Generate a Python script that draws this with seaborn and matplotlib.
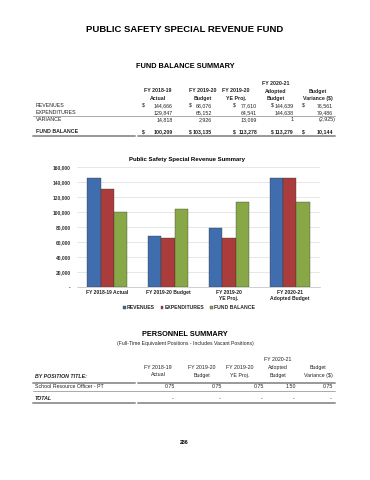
import matplotlib
matplotlib.use("Agg")
import matplotlib.pyplot as plt
from matplotlib.lines import Line2D
from matplotlib.ticker import FuncFormatter
import seaborn as sns
import pandas as pd

# ---------------- data ----------------
periods = ["FY 2018-19 Actual", "FY 2019-20 Budget", "FY 2019-20\nYE Proj.", "FY 2020-21\nAdopted Budget"]
series_names = ["REVENUES", "EXPENDITURES", "FUND BALANCE"]
revenues = [144666, 68076, 77610, 144639]
expenditures = [129847, 65152, 64541, 144638]
fund_balance = [100209, 103135, 113278, 113279]
variance = [14818, 2926, 13069, 1]
budget_variance = [76561, 79486, -2925, 10144]  # revenues, expenditures, variance, fund balance
y_ticks = [0, 20000, 40000, 60000, 80000, 100000, 120000, 140000, 160000]
colors = ["#3F6DAD", "#AA3D3B", "#88A848"]

position_titles = ["School Resource Officer - PT"]
fte_values = [[0.75, 0.75, 0.75, 1.50, 0.75]]
total_values = ["-", "-", "-", "-", "-"]

W, H = 370, 480
sns.set_theme(style="white")
plt.rcParams['font.family'] = ['Liberation Sans', 'DejaVu Sans']
fig = plt.figure(figsize=(W / 100, H / 100), dpi=100)
fig.patch.set_facecolor("white")


def T(x, y, s, size=3.8, ha="left", weight="normal", style="normal", color="#222222"):
    fig.text(x / W, 1 - y / H, s, fontsize=size, ha=ha, va="center",
             fontweight=weight, fontstyle=style, color=color)


def L(x0, x1, y, lw=0.5, color="#888888"):
    fig.add_artist(Line2D([x0 / W, x1 / W], [1 - y / H, 1 - y / H],
                          transform=fig.transFigure, lw=lw, color=color))


def fmt(v):
    if v < 0:
        return "({:,})".format(-v)
    return "{:,}".format(v)


# ---------------- titles ----------------
T(185, 29, "PUBLIC SAFETY SPECIAL REVENUE FUND", size=6.8, ha="center", weight="bold", color="black")
T(185, 67, "FUND BALANCE SUMMARY", size=5.3, ha="center", weight="bold", color="black")

# ---------------- fund balance table ----------------
hdr_x = [158, 203, 236, 276, 318]
hdr2 = ["FY 2018-19", "FY 2019-20", "FY 2019-20", "Adopted", "Budget"]
hdr3 = ["Actual", "Budget", "YE Proj.", "Budget", "Variance ($)"]
T(276, 83.5, "FY 2020-21", size=3.8, ha="center", weight="bold")
for x, a, b in zip(hdr_x, hdr2, hdr3):
    T(x, 91, a, size=3.8, ha="center", weight="bold")
    T(x, 98.7, b, size=3.8, ha="center", weight="bold")

dollar_x = [141.7, 189, 233, 270.7, 301.7]
val_x = [172.7, 211.7, 257, 293.3, 333.3]

rows = [
    ("REVENUES", revenues + [budget_variance[0]], True, "normal", 105.3),
    ("EXPENDITURES", expenditures + [budget_variance[1]], False, "normal", 112.3),
    ("VARIANCE", variance + [budget_variance[2]], False, "normal", 119.5),
    ("FUND BALANCE", fund_balance + [budget_variance[3]], True, "bold", 131.7),
]
for label, vals, dollars, wt, y in rows:
    T(36, y, label, size=3.8, weight=wt)
    for i, v in enumerate(vals):
        if dollars:
            T(dollar_x[i], y, "$", size=3.8, weight=wt)
        xoff = 2.3 if v < 0 else 0
        T(val_x[i] + xoff, y, fmt(v), size=3.8, ha="right", weight=wt)
L(33, 335, 115.6, lw=0.5)
L(33, 135, 136, lw=1.4, color="#999999")
L(138, 335, 136, lw=1.4, color="#999999")

# ---------------- bar chart ----------------
T(187, 160, "Public Safety Special Revenue Summary", size=4.3, ha="center", weight="bold", color="black")

df = pd.DataFrame({
    "period": periods * 3,
    "series": [s for s in series_names for _ in periods],
    "value": revenues + expenditures + fund_balance,
})

ax = fig.add_axes([77 / W, 1 - 286.7 / H, (320 - 77) / W, (286.7 - 166.7) / H])
sns.barplot(data=df, x="period", y="value", hue="series", palette=colors,
            width=0.66, ax=ax, saturation=1, edgecolor="#333333", linewidth=0.25,
            legend=True)
ax.set_ylim(0, 160000)
ax.set_yticks(y_ticks)
ax.yaxis.set_major_formatter(FuncFormatter(lambda v, p: "-" if v == 0 else "{:,.0f}".format(v)))
ax.set_xlabel("")
ax.set_ylabel("")
ax.grid(axis="y", color="#DDDDDD", lw=0.5)
ax.set_axisbelow(True)
for s in ["top", "right", "left"]:
    ax.spines[s].set_visible(False)
ax.spines["bottom"].set_color("#BBBBBB")
ax.spines["bottom"].set_linewidth(0.5)
ax.tick_params(axis="y", labelsize=3.5, length=0, pad=4.5, labelcolor="#333333")
ax.tick_params(axis="x", labelsize=3.6, length=0, pad=2.5, labelcolor="#222222")
for t in ax.get_xticklabels():
    t.set_fontweight("bold")
for t in ax.get_yticklabels():
    t.set_fontweight("bold")
ax.set_facecolor("white")

handles, labels = ax.get_legend_handles_labels()
ax.legend_.remove()
leg = fig.legend(handles, labels, loc="center", bbox_to_anchor=(189 / W, 1 - 307.7 / H),
                 ncol=3, frameon=False, fontsize=3.7, handlelength=0.5, handleheight=0.5,
                 handletextpad=0.25, columnspacing=1.1, borderpad=0)
for t in leg.get_texts():
    t.set_fontweight("bold")

# ---------------- personnel summary ----------------
T(185, 335, "PERSONNEL SUMMARY", size=5.3, ha="center", weight="bold", color="black")
T(185, 344, "(Full-Time Equivalent Positions - Includes Vacant Positions)", size=3.7, ha="center")

hdr2_x = [158, 202, 240, 278, 318]
T(278, 359.7, "FY 2020-21", size=3.8, ha="center")
for x, a, b in zip(hdr2_x, hdr2, hdr3):
    T(x, 367.3, a, size=3.8, ha="center")
    T(x, 375, b, size=3.8, ha="center")
T(35, 376, "BY POSITION TITLE:", size=3.8, weight="bold", style="italic")
L(33, 135, 382.7, lw=1.4, color="#999999")
L(138, 335, 382.7, lw=1.4, color="#999999")

num_x = [175, 221.7, 264, 295.7, 333.3]
for j, (title, vals) in enumerate(zip(position_titles, fte_values)):
    y = 387 + 7 * j
    T(35, y, title, size=3.8)
    for x, v in zip(num_x, vals):
        T(x, y, "{:.2f}".format(v), size=3.8, ha="right")
L(33, 335, 390.5, lw=0.5)
T(35, 398.7, "TOTAL", size=3.8, weight="bold", style="italic")
for x, v in zip(num_x, total_values):
    T(x - 1.5, 398.7, v, size=3.8, ha="right")
L(33, 135, 403.3, lw=1.4, color="#999999")
L(138, 335, 403.3, lw=1.4, color="#999999")

T(184.5, 442, "286", size=3.8, ha="center", weight="bold", color="black")

fig.savefig("out.png", dpi=100, facecolor="white")
